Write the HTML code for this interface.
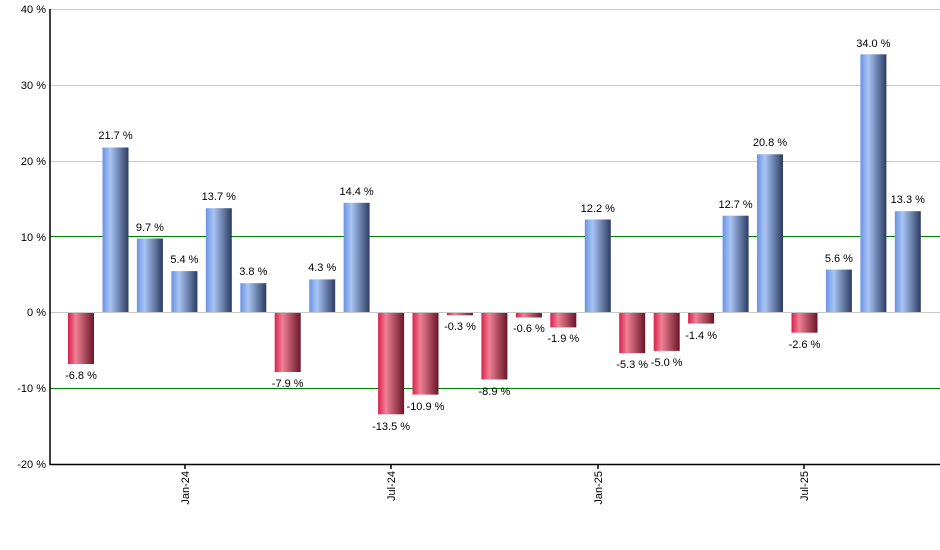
<!DOCTYPE html>
<html><head><meta charset="utf-8"><style>
body{margin:0;background:#fff}
svg{display:block;font-family:"Liberation Sans",Arial,sans-serif;font-size:11px}
</style></head><body>
<svg width="940" height="550" viewBox="0 0 940 550">
<defs>
<linearGradient id="b" x1="0" x2="1" y1="0" y2="0">
<stop offset="0" stop-color="#6b93e3"/><stop offset="0.3" stop-color="#a9c5f5"/><stop offset="1" stop-color="#2c3c62"/></linearGradient>
<linearGradient id="r" x1="0" x2="1" y1="0" y2="0">
<stop offset="0" stop-color="#d9204c"/><stop offset="0.3" stop-color="#ef8194"/><stop offset="1" stop-color="#6a1628"/></linearGradient>
</defs>
<g stroke="#c8c8c8" stroke-width="1">
<line x1="50" x2="940" y1="9.5" y2="9.5"/><line x1="50" x2="940" y1="85.5" y2="85.5"/>
<line x1="50" x2="940" y1="161.5" y2="161.5"/><line x1="50" x2="940" y1="312.5" y2="312.5"/>
</g>
<g stroke="#008000" stroke-width="1">
<line x1="50" x2="940" y1="236.5" y2="236.5"/><line x1="50" x2="940" y1="388.5" y2="388.5"/>
</g>
<g fill="url(#b)">
<rect x="102.5" y="147.5" width="26" height="164.5"/>
<rect x="136.9" y="238.5" width="26" height="73.5"/>
<rect x="171.4" y="271.1" width="26" height="40.9"/>
<rect x="205.8" y="208.2" width="26" height="103.8"/>
<rect x="240.3" y="283.2" width="26" height="28.8"/>
<rect x="309.2" y="279.4" width="26" height="32.6"/>
<rect x="343.6" y="202.8" width="26" height="109.2"/>
<rect x="584.8" y="219.5" width="26" height="92.5"/>
<rect x="722.6" y="215.7" width="26" height="96.3"/>
<rect x="757.0" y="154.3" width="26" height="157.7"/>
<rect x="825.9" y="269.6" width="26" height="42.4"/>
<rect x="860.4" y="54.3" width="26" height="257.7"/>
<rect x="894.8" y="211.2" width="26" height="100.8"/>
</g>
<g fill="url(#r)">
<rect x="68" y="313" width="26" height="51"/>
<rect x="274.7" y="313" width="26" height="59"/>
<rect x="378.1" y="313" width="26" height="101.3"/>
<rect x="412.5" y="313" width="26" height="81.6"/>
<rect x="447.0" y="313" width="26" height="2.3"/>
<rect x="481.4" y="313" width="26" height="66.5"/>
<rect x="515.9" y="313" width="26" height="4.5"/>
<rect x="550.3" y="313" width="26" height="14.4"/>
<rect x="619.2" y="313" width="26" height="40.2"/>
<rect x="653.7" y="313" width="26" height="37.9"/>
<rect x="688.1" y="313" width="26" height="10.6"/>
<rect x="791.5" y="313" width="26" height="19.7"/>
</g>
<g stroke="#000" stroke-width="1.5">
<line x1="50" x2="50" y1="9" y2="464.5"/><line x1="49.5" x2="940" y1="464.5" y2="464.5"/>
<line x1="185" x2="185" y1="464" y2="469"/><line x1="391" x2="391" y1="464" y2="469"/>
<line x1="598" x2="598" y1="464" y2="469"/><line x1="804" x2="804" y1="464" y2="469"/>
</g>
<g text-anchor="end" fill="#000">
<text x="46" y="13">40 %</text><text x="46" y="89">30 %</text><text x="46" y="165">20 %</text>
<text x="46" y="241">10 %</text><text x="46" y="316">0 %</text><text x="46" y="392">-10 %</text><text x="46" y="468">-20 %</text>
</g>
<g text-anchor="end" fill="#000">
<text transform="translate(189,471) rotate(-90)">Jan-24</text>
<text transform="translate(395,471) rotate(-90)">Jul-24</text>
<text transform="translate(602,471) rotate(-90)">Jan-25</text>
<text transform="translate(808,471) rotate(-90)">Jul-25</text>
</g>
<g text-anchor="middle" fill="#000">
<text x="81" y="379">-6.8 %</text>
<text x="115.5" y="139">21.7 %</text>
<text x="149.9" y="231">9.7 %</text>
<text x="184.4" y="263">5.4 %</text>
<text x="218.8" y="200">13.7 %</text>
<text x="253.3" y="275">3.8 %</text>
<text x="287.7" y="387">-7.9 %</text>
<text x="322.2" y="271">4.3 %</text>
<text x="356.6" y="195">14.4 %</text>
<text x="391.1" y="430">-13.5 %</text>
<text x="425.5" y="410">-10.9 %</text>
<text x="460" y="330">-0.3 %</text>
<text x="494.4" y="395">-8.9 %</text>
<text x="528.9" y="332">-0.6 %</text>
<text x="563.3" y="342">-1.9 %</text>
<text x="597.8" y="212">12.2 %</text>
<text x="632.2" y="368">-5.3 %</text>
<text x="666.7" y="366">-5.0 %</text>
<text x="701.1" y="339">-1.4 %</text>
<text x="735.6" y="208">12.7 %</text>
<text x="770" y="146">20.8 %</text>
<text x="804.5" y="348">-2.6 %</text>
<text x="838.9" y="262">5.6 %</text>
<text x="873.4" y="47">34.0 %</text>
<text x="907.8" y="203">13.3 %</text>
</g>
</svg>
</body></html>
